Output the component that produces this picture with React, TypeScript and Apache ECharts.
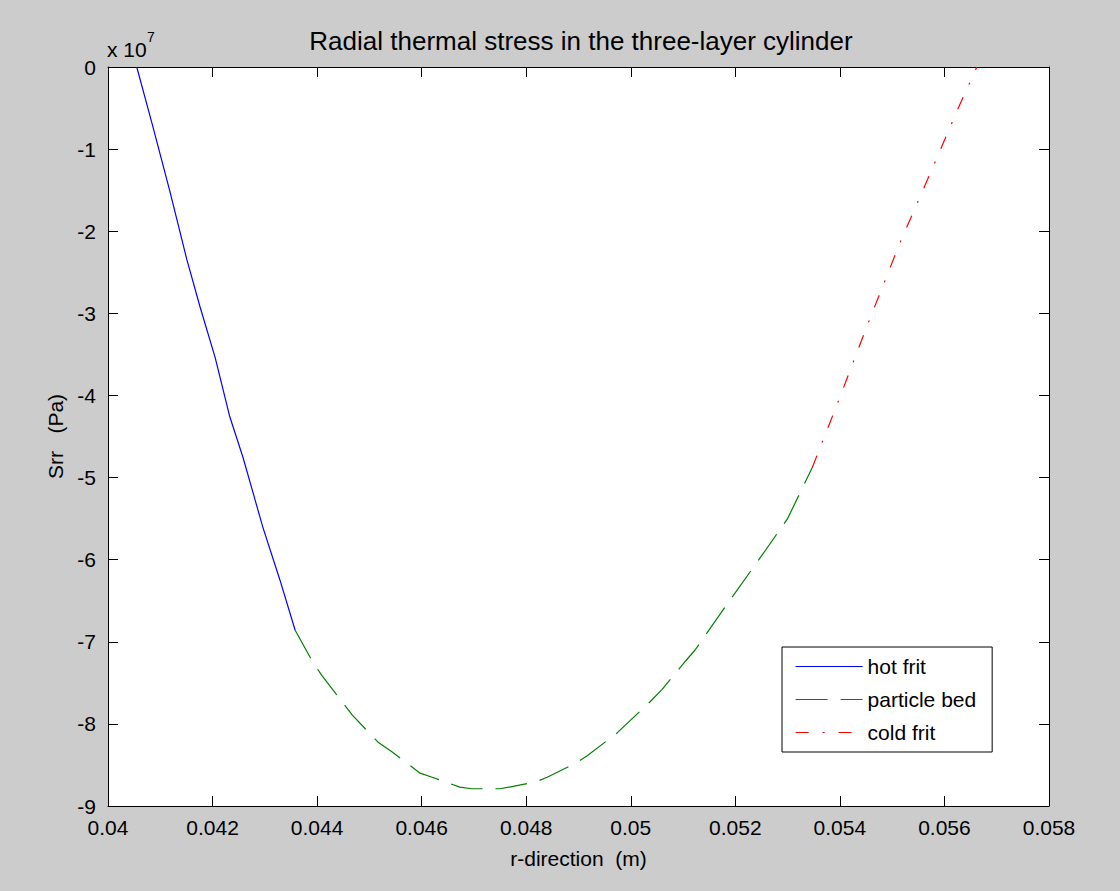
import React, { useEffect, useRef } from "react";
import * as echarts from "echarts";

// r-direction (m) and Srr (x 1e7 Pa)
const hotFritR = [0.04055, 0.04086, 0.04119, 0.04151, 0.04176, 0.04205, 0.04233, 0.04258, 0.04296, 0.04329, 0.04358];
const hotFritS = [0, -0.73, -1.53, -2.35, -2.92, -3.54, -4.26, -4.75, -5.6, -6.25, -6.86];

const bedR = [0.04358, 0.04392, 0.04409, 0.0445, 0.04467, 0.04516, 0.04543, 0.04597, 0.0462, 0.04673, 0.04696, 0.0475, 0.04817, 0.0484, 0.04897, 0.04916, 0.04974, 0.04987, 0.05037, 0.0506, 0.05104, 0.05123, 0.0519, 0.05245, 0.053, 0.05347];
const bedS = [-6.86, -7.25, -7.41, -7.75, -7.89, -8.22, -8.34, -8.6, -8.65, -8.77, -8.79, -8.79, -8.71, -8.65, -8.47, -8.39, -8.11, -8.03, -7.73, -7.58, -7.24, -7.1, -6.49, -6.0, -5.5, -4.88];

const coldFritR = [0.05347, 0.05394, 0.05454, 0.05515, 0.05582, 0.05625, 0.05662];
const coldFritS = [-4.88, -4.12, -3.12, -2.14, -1.16, -0.52, 0];

const seriesNames = ["hot frit", "particle bed", "cold frit"];
const xTicks = { min: 0.04, max: 0.058, step: 0.002 };
const yTicks = { min: -9, max: 0, step: 1 };

const FONT = "'Liberation Sans', Arial, Helvetica, sans-serif";

function pairs(xs: number[], ys: number[]) {
  return xs.map((x, i) => [x, ys[i]]);
}

export default function App() {
  const ref = useRef<HTMLDivElement>(null);
  useEffect(() => {
    document.body.style.margin = "0";
    if (!ref.current) return;
    const chart = echarts.init(ref.current, null, { renderer: "svg" });
    const axisCommon = {
      axisLine: { show: true, onZero: false, lineStyle: { color: "#000", width: 1 } },
      axisTick: { show: true, inside: true, length: 10, lineStyle: { color: "#000", width: 1 } },
      splitLine: { show: false },
    };
    const xFmt = (v: number) => String(parseFloat(v.toFixed(4)));
    chart.setOption({
      animation: false,
      backgroundColor: "#cccccc",
      title: {
        text: "Radial thermal stress in the three-layer cylinder",
        left: 576,
        top: 23,
        textAlign: "center",
        textStyle: { fontFamily: FONT, fontSize: 26, fontWeight: "normal", color: "#000" },
      },
      grid: { left: 108, right: 71, top: 67, bottom: 85, show: true, backgroundColor: "#ffffff", borderWidth: 0 },
      legend: {
        orient: "vertical",
        left: 782,
        top: 647,
        data: seriesNames,
        backgroundColor: "#ffffff",
        borderColor: "#000",
        borderWidth: 1,
        borderRadius: 0,
        padding: [9, 16, 9, 13],
        itemWidth: 67,
        itemHeight: 20,
        itemGap: 12,
        textStyle: { fontFamily: FONT, fontSize: 21, color: "#000", lineHeight: 20 },
        itemStyle: { opacity: 0 },
        lineStyle: { width: 1.2 },
      },
      xAxis: [
        {
          ...axisCommon,
          type: "value",
          min: xTicks.min,
          max: xTicks.max,
          interval: xTicks.step,
          position: "bottom",
          name: "r-direction  (m)",
          nameLocation: "middle",
          nameGap: 42,
          nameTextStyle: { fontFamily: FONT, fontSize: 21, color: "#000" },
          axisLabel: { fontFamily: FONT, fontSize: 21, color: "#000", margin: 11, formatter: xFmt },
        },
        {
          ...axisCommon,
          type: "value",
          min: xTicks.min,
          max: xTicks.max,
          interval: xTicks.step,
          position: "top",
          axisLabel: { show: false },
        },
      ],
      yAxis: [
        {
          ...axisCommon,
          type: "value",
          min: yTicks.min,
          max: yTicks.max,
          interval: yTicks.step,
          position: "left",
          name: "Srr   (Pa)",
          nameLocation: "middle",
          nameGap: 40,
          nameTextStyle: { fontFamily: FONT, fontSize: 21, color: "#000" },
          axisLabel: { fontFamily: FONT, fontSize: 21, color: "#000", margin: 12 },
        },
        {
          ...axisCommon,
          type: "value",
          min: yTicks.min,
          max: yTicks.max,
          interval: yTicks.step,
          position: "right",
          axisLabel: { show: false },
        },
      ],
      graphic: [
        {
          type: "text",
          x: 107,
          y: 49,
          style: { text: "x 10", fontFamily: FONT, fontSize: 21, fill: "#000", verticalAlign: "middle" },
        },
        {
          type: "text",
          x: 147,
          y: 37,
          style: { text: "7", fontFamily: FONT, fontSize: 14, fill: "#000", verticalAlign: "middle" },
        },
      ],
      series: [
        {
          name: seriesNames[0],
          type: "line",
          symbol: "none",
          data: pairs(hotFritR, hotFritS),
          lineStyle: { color: "#0000ff", width: 1.2, type: "solid" },
          itemStyle: { color: "#0000ff" },
        },
        {
          name: seriesNames[1],
          type: "line",
          symbol: "none",
          data: pairs(bedR, bedS),
          lineStyle: { color: "#008000", width: 1.2, type: [32, 13] },
          itemStyle: { color: "#008000" },
        },
        {
          name: seriesNames[2],
          type: "line",
          symbol: "none",
          data: pairs(coldFritR, coldFritS),
          lineStyle: { color: "#ff0000", width: 1.2, type: [13, 14, 2, 14] },
          itemStyle: { color: "#ff0000" },
        },
      ],
    });
    return () => chart.dispose();
  }, []);
  return <div ref={ref} style={{ width: 1120, height: 891 }} />;
}
